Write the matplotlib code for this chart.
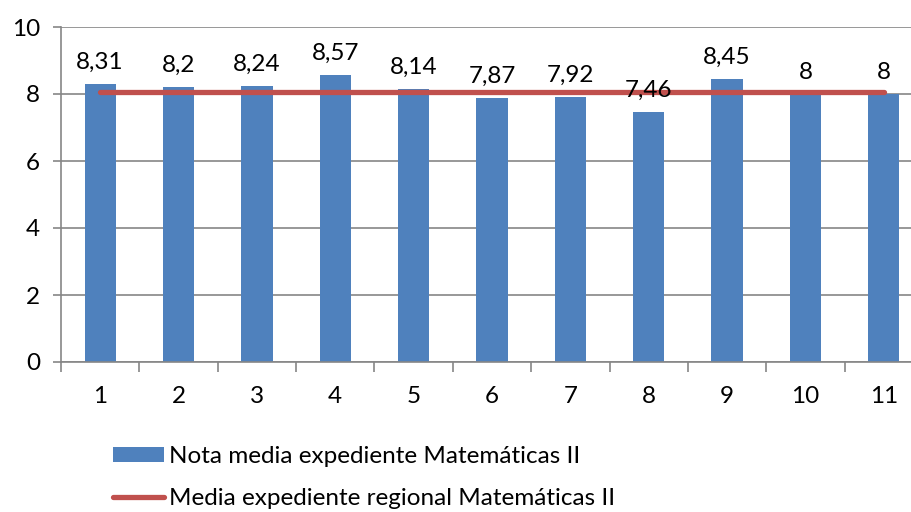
import matplotlib
matplotlib.use("Agg")
import matplotlib.pyplot as plt

categories = ["1", "2", "3", "4", "5", "6", "7", "8", "9", "10", "11"]
nota_media = [8.31, 8.2, 8.24, 8.57, 8.14, 7.87, 7.92, 7.46, 8.45, 8, 8]
media_regional = [8.05] * 11

labels = ["8,31", "8,2", "8,24", "8,57", "8,14", "7,87", "7,92", "7,46", "8,45", "8", "8"]

plt.rcParams["font.family"] = ["Lato", "DejaVu Sans"]
FS = 17.5

fig = plt.figure(figsize=(9.11, 5.12), dpi=100)
ax = fig.add_axes([61 / 911, 1 - 362 / 512, 862 / 911, 335 / 512])

x = list(range(1, 12))
bars = ax.bar(x, nota_media, width=0.4, color="#4F81BD", zorder=2,
              label="Nota media expediente Matemáticas II")
line, = ax.plot(x, media_regional, color="#C0504D", lw=3.8, solid_capstyle="round", zorder=3,
                label="Media expediente regional Matemáticas II")

for xi, v, t in zip(x, nota_media, labels):
    ax.annotate(t, (xi, v), xytext=(0, 8), textcoords="offset points",
                ha="center", va="bottom", fontsize=FS, color="black")

ax.set_xlim(0.5, 11.5)
ax.set_ylim(0, 10)
ax.set_yticks([0, 2, 4, 6, 8, 10])
ax.set_xticks(x)
ax.set_xticklabels(categories)
ax.set_xticks([i + 0.5 for i in range(0, 12)], minor=True)
ax.tick_params(axis="x", which="major", length=0, pad=17, labelsize=FS)
ax.tick_params(axis="x", which="minor", length=7, color="#868686", width=1.2)
ax.tick_params(axis="y", length=6, color="#868686", width=1.2, labelsize=FS, pad=9)
ax.grid(axis="y", color="#868686", lw=1.2, zorder=0)
for s in ["top", "right"]:
    ax.spines[s].set_visible(False)
for s in ["left", "bottom"]:
    ax.spines[s].set_color("#868686")
    ax.spines[s].set_linewidth(1.2)

fig.legend(handles=[bars, line], loc="upper left", bbox_to_anchor=(113 / 911, 1 - 446 / 512),
           frameon=False, fontsize=FS, handlelength=2.1, handleheight=0.6, handletextpad=0.2,
           labelspacing=0.88, borderaxespad=0, borderpad=0)

fig.savefig("out.png", dpi=100)
